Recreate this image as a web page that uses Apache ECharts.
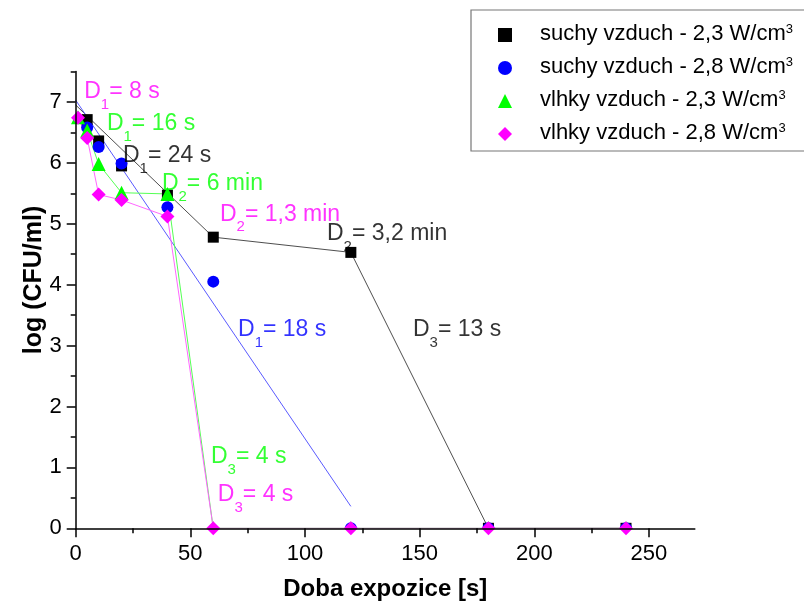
<!DOCTYPE html>
<html>
<head>
<meta charset="utf-8">
<script src="https://cdn.jsdelivr.net/npm/echarts@6/dist/echarts.min.js"></script>
<style>
  html, body { margin: 0; padding: 0; background: #ffffff; }
  #chart { width: 804px; height: 608px; }
</style>
</head>
<body>
<div id="chart"></div>
<script>
// Survival curves: log (CFU/ml) versus exposure time [s]
const seriesNames = [
  'suchy vzduch - 2,3 W/cm',
  'suchy vzduch - 2,8 W/cm',
  'vlhky vzduch - 2,3 W/cm',
  'vlhky vzduch - 2,8 W/cm'
];
const seriesColors = ['#000000', '#0000ff', '#00ff00', '#ff00ff'];
const seriesSymbols = ['rect', 'circle', 'triangle', 'diamond'];
const seriesSymbolSizes = [11, 12, 14, 14];

// measured points
const dry23T = [5, 10, 20, 40, 60, 120, 180, 240];
const dry23V = [6.71, 6.36, 5.95, 5.47, 4.78, 4.53, 0, 0];
const dry28T = [5, 10, 20, 40, 60, 120, 180, 240];
const dry28V = [6.58, 6.26, 5.99, 5.27, 4.05, 0, 0, 0];
const wet23T = [1, 5, 10, 20, 40, 60, 120, 180, 240];
const wet23V = [6.75, 6.53, 5.98, 5.51, 5.49, 0, 0, 0, 0];
const wet28T = [1, 5, 10, 20, 40, 60, 120, 180, 240];
const wet28V = [6.74, 6.41, 5.48, 5.39, 5.12, 0, 0, 0, 0];

// inactivation phases (straight segments)
const dry23FitT = [0, 60, 120, 180, 240];
const dry23FitV = [6.95, 4.78, 4.53, 0, 0];
const dry28FitT = [0, 120];
const dry28FitV = [7.03, 0.36];

// axis ticks
const xMajorTicks = [0, 50, 100, 150, 200, 250];
const xMinorTicks = [25, 75, 125, 175, 225];
const yMajorTicks = [0, 1, 2, 3, 4, 5, 6, 7];
const yMinorTicks = [0.5, 1.5, 2.5, 3.5, 4.5, 5.5, 6.5, 7.5];

// decimal reduction times written next to the curves
const annotations = [
  { sub: '1', rest: '= 8 s',     t: 3.7,   v: 7.24, color: '#ff00ff' },
  { sub: '1', rest: '= 16 s',    t: 13.6,  v: 6.71, color: '#00ff00' },
  { sub: '1', rest: '= 24 s',    t: 20.6,  v: 6.19, color: '#000000' },
  { sub: '2', rest: '= 6 min',   t: 37.6,  v: 5.73, color: '#00ff00' },
  { sub: '2', rest: '= 1,3 min', t: 62.9,  v: 5.23, color: '#ff00ff' },
  { sub: '2', rest: '= 3,2 min', t: 109.6, v: 4.91, color: '#000000' },
  { sub: '1', rest: '= 18 s',    t: 70.8,  v: 3.34, color: '#0000ff' },
  { sub: '3', rest: '= 13 s',    t: 147.1, v: 3.34, color: '#000000' },
  { sub: '3', rest: '= 4 s',     t: 59.0,  v: 1.25, color: '#00ff00' },
  { sub: '3', rest: '= 4 s',     t: 62.0,  v: 0.63, color: '#ff00ff' }
];

const FONT = 'Liberation Sans, Arial, sans-serif';
const pairs = (ts, vs) => ts.map((t, i) => [t, vs[i]]);

const pointSets = [pairs(dry23T, dry23V), pairs(dry28T, dry28V), pairs(wet23T, wet23V), pairs(wet28T, wet28V)];

const lineSeries = [
  { data: pairs(dry23FitT, dry23FitV), color: '#3a3a3a', width: 0.9 },
  { data: pairs(dry28FitT, dry28FitV), color: '#5a5aff', width: 1 },
  { data: pointSets[2], color: '#55ff55', width: 1 },
  { data: pointSets[3], color: '#ff66ff', width: 1 }
].map(l => ({
  type: 'line',
  data: l.data,
  showSymbol: false,
  symbol: 'none',
  silent: true,
  z: 1,
  lineStyle: { color: l.color, width: l.width },
  animation: false
}));

const scatterSeries = seriesNames.map((name, i) => ({
  type: 'scatter',
  name: name,
  data: pointSets[i],
  symbol: seriesSymbols[i],
  symbolSize: seriesSymbolSizes[i],
  itemStyle: { color: seriesColors[i], opacity: 1 },
  z: 2 + i,
  animation: false
}));

const annotationSeries = {
  type: 'scatter',
  silent: true,
  symbolSize: 0,
  z: 8,
  animation: false,
  data: annotations.map(a => ({
    value: [a.t, a.v],
    label: {
      show: true,
      position: 'right',
      distance: 0,
      offset: [0, 5],
      color: a.color,
      formatter: '{m|D}{s|' + a.sub + '}{m|' + a.rest + '}',
      rich: {
        m: { fontSize: 23, lineHeight: 24, verticalAlign: 'top', fontFamily: FONT, color: a.color },
        s: { fontSize: 15, lineHeight: 15, padding: [17, 0, 0, 0], verticalAlign: 'top', fontFamily: FONT, color: a.color }
      }
    }
  }))
};

const axisLineStyle = { color: '#000000', width: 1.5 };

const chart = echarts.init(document.getElementById('chart'), null, { renderer: 'canvas' });
chart.setOption({
  backgroundColor: '#ffffff',
  animation: false,
  grid: { left: 75.7, right: 109.2, top: 71.5, bottom: 79.7, containLabel: false },
  legend: {
    data: seriesNames,
    orient: 'vertical',
    left: 471,
    top: 10,
    padding: [13, 80, 7, 27],
    itemGap: 11,
    itemWidth: 14,
    itemHeight: 14,
    borderColor: '#777777',
    borderWidth: 1.2,
    selectedMode: false,
    formatter: name => '{n|' + name + '}{sup|3}',
    textStyle: {
      color: '#000000',
      fontFamily: FONT,
      rich: {
        n: { fontSize: 22, lineHeight: 24, padding: [0, 0, 0, 23], verticalAlign: 'top', fontFamily: FONT },
        sup: { fontSize: 13, lineHeight: 13, verticalAlign: 'top', fontFamily: FONT }
      }
    }
  },
  xAxis: [{
    type: 'value',
    min: 0,
    max: 270,
    interval: 50,
    z: 10,
    name: 'Doba expozice [s]',
    nameLocation: 'middle',
    nameGap: 49,
    nameTextStyle: { fontSize: 24, fontWeight: 'bold', fontFamily: FONT, color: '#000000' },
    axisLine: { show: true, onZero: false, lineStyle: axisLineStyle },
    axisTick: { show: true, inside: false, length: 9, customValues: xMajorTicks, lineStyle: axisLineStyle },
    axisLabel: { show: true, margin: 15, fontSize: 22, color: '#000000', fontFamily: FONT, customValues: xMajorTicks },
    splitLine: { show: false }
  }, {
    type: 'value',
    min: 0,
    max: 270,
    interval: 25,
    z: 10,
    position: 'bottom',
    axisLine: { show: false },
    axisTick: { show: true, inside: false, length: 5, customValues: xMinorTicks, lineStyle: axisLineStyle },
    axisLabel: { show: false },
    splitLine: { show: false }
  }],
  yAxis: [{
    type: 'value',
    min: 0,
    max: 7.5,
    interval: 1,
    z: 10,
    axisLine: { show: true, onZero: false, lineStyle: axisLineStyle },
    axisTick: { show: true, inside: false, length: 9, customValues: yMajorTicks, lineStyle: axisLineStyle },
    axisLabel: { show: true, margin: 14, fontSize: 22, color: '#000000', fontFamily: FONT, customValues: yMajorTicks },
    splitLine: { show: false }
  }, {
    type: 'value',
    min: 0,
    max: 7.5,
    interval: 0.5,
    z: 10,
    position: 'left',
    axisLine: { show: false },
    axisTick: { show: true, inside: false, length: 5, customValues: yMinorTicks, lineStyle: axisLineStyle },
    axisLabel: { show: false },
    splitLine: { show: false }
  }],
  series: lineSeries.concat(scatterSeries, [annotationSeries])
});

// markers sitting on the time axis are cut off at the axis line
const origin = chart.convertToPixel({ gridIndex: 0 }, [0, 0]);
const axisEnd = chart.convertToPixel({ gridIndex: 0 }, [270, 0]);
chart.setOption({
  graphic: [{
    type: 'rect',
    z: 5,
    silent: true,
    shape: { x: origin[0] + 1, y: origin[1] + 0.5, width: axisEnd[0] - origin[0] + 10, height: 10 },
    style: { fill: '#ffffff' }
  }, {
    // vertical axis title
    type: 'text',
    z: 10,
    silent: true,
    x: 34,
    y: 280,
    rotation: Math.PI / 2,
    style: {
      text: 'log (CFU/ml)',
      fontSize: 25,
      fontWeight: 'bold',
      fontFamily: FONT,
      fill: '#000000',
      align: 'center',
      verticalAlign: 'middle'
    }
  }]
});
</script>
</body>
</html>
